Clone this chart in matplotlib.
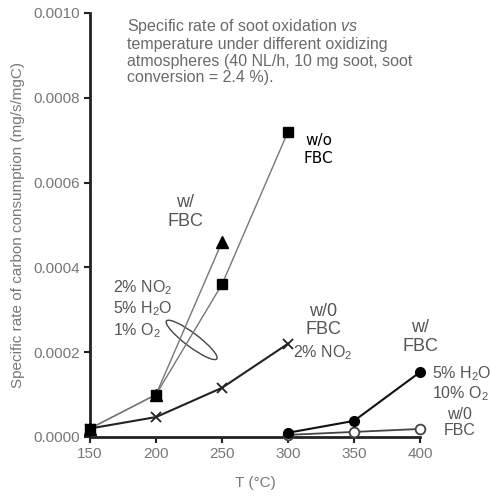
import numpy as np
import matplotlib.pyplot as plt
from matplotlib.patches import Ellipse
from matplotlib.transforms import ScaledTranslation

plt.rcParams['font.family'] = ['Liberation Sans', 'DejaVu Sans']
plt.rcParams['mathtext.fontset'] = 'custom'
plt.rcParams['mathtext.rm'] = 'Liberation Sans'
plt.rcParams['mathtext.it'] = 'Liberation Sans:italic'

# -----------------------------
# data
# -----------------------------
t_no2 = [150, 200, 250, 300]
r_no2_wo_fbc = [0.00002, 0.00010, 0.00036, 0.00072]   # squares
t_no2_fbc = [150, 200, 250]
r_no2_w_fbc = [0.00002, 0.00010, 0.00046]             # triangles
t_no2_only = [150, 200, 250, 300]
r_no2_only = [0.00002, 0.000047, 0.000116, 0.00022]   # crosses
t_h2o = [300, 350, 400]
r_h2o_w_fbc = [0.00001, 0.000038, 0.000153]           # filled circles
r_h2o_wo_fbc = [0.000005, 0.000012, 0.000019]         # open circles

x_ticks = [150, 200, 250, 300, 350, 400]
y_ticks = [0.0, 0.0002, 0.0004, 0.0006, 0.0008, 0.0010]

TXT = '#555555'
LBL = '#777777'

fig = plt.figure(figsize=(4.91, 4.97), dpi=100)
ax = fig.add_axes([90 / 491, 60 / 497, 330 / 491, 424 / 497])

# grey series with NO2
ax.plot(t_no2_fbc, r_no2_w_fbc, color='#777777', lw=1.0, marker='^', ms=8,
        mfc='black', mec='black', clip_on=False, zorder=3)
ax.plot(t_no2, r_no2_wo_fbc, color='#777777', lw=1.0, marker='s', ms=7,
        mfc='black', mec='black', clip_on=False, zorder=4)
ax.plot(t_no2_only, r_no2_only, color='#222222', lw=1.5, marker='x', ms=7,
        mew=1.3, mec='#222222', clip_on=False, zorder=3)
ax.plot(t_h2o, r_h2o_wo_fbc, color='#444444', lw=1.3, marker='o', ms=7,
        mfc='white', mec='#444444', mew=1.3, clip_on=False, zorder=3)
ax.plot(t_h2o, r_h2o_w_fbc, color='#111111', lw=1.5, marker='o', ms=7,
        mfc='black', mec='black', clip_on=False, zorder=4)

# ellipse grouping the NO2 / H2O / O2 curves
ell = Ellipse((0, 0), width=0.63, height=0.135, angle=-37, fill=False,
              ec='#444444', lw=1.0,
              transform=fig.dpi_scale_trans + ScaledTranslation(227, 0.000229, ax.transData))
ax.add_patch(ell)

ax.set_xlim(150, 400)
ax.set_ylim(0, 0.0010)
ax.set_xticks(x_ticks)
ax.set_yticks(y_ticks)
ax.set_yticklabels([f'{v:.4f}' for v in y_ticks])
for s in ['top', 'right']:
    ax.spines[s].set_visible(False)
for s in ['left', 'bottom']:
    ax.spines[s].set_linewidth(2.0)
    ax.spines[s].set_color('#222222')
ax.tick_params(direction='out', length=4, width=1.5, colors='#222222',
               labelcolor=LBL, labelsize=11, pad=3)

ax.set_xlabel('T (°C)', color=LBL, fontsize=11, labelpad=11)
ax.set_ylabel('Specific rate of carbon consumption (mg/s/mgC)', color=LBL,
              fontsize=11, labelpad=6)

# title block inside the plot
ax.text(0.113, 0.99,
        'Specific rate of soot oxidation $\\it{vs}$\n'
        'temperature under different oxidizing\n'
        'atmospheres (40 NL/h, 10 mg soot, soot\n'
        'conversion = 2.4 %).',
        transform=ax.transAxes, ha='left', va='top', color='#6a6a6a',
        fontsize=11.5, linespacing=1.1)

# annotations
ax.text(323, 0.000679, 'w/o\nFBC', ha='center', va='center', color='black',
        fontsize=11, linespacing=1.25, fontfamily='DejaVu Sans')
ax.text(222, 0.000531, 'w/\nFBC', ha='center', va='center', color=TXT,
        fontsize=13, linespacing=1.15)
ax.text(167.5, 0.000302, '2% NO$_2$\n5% H$_2$O\n1% O$_2$', ha='left',
        va='center', color=TXT, fontsize=11.5, linespacing=1.2)
ax.text(326.5, 0.000274, 'w/0\nFBC', ha='center', va='center', color=TXT,
        fontsize=13, linespacing=1.1)
ax.text(304, 0.000200, '2% NO$_2$', ha='left', va='center', color=TXT,
        fontsize=11.5)
ax.text(400, 0.000236, 'w/\nFBC', ha='center', va='center', color=TXT,
        fontsize=13, linespacing=1.1)
ax.text(409, 0.000126, '5% H$_2$O\n10% O$_2$', ha='left', va='center',
        color=TXT, fontsize=11.5, linespacing=1.15, clip_on=False)
ax.text(430, 0.000034, 'w/0\nFBC', ha='center', va='center', color=TXT,
        fontsize=11.5, linespacing=1.15, clip_on=False)

fig.savefig('out.png', dpi=100)
